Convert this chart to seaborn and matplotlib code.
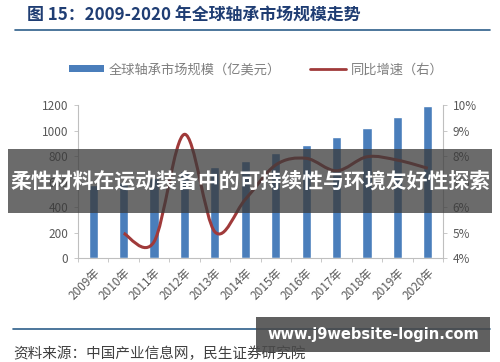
import matplotlib
matplotlib.use('Agg')
import matplotlib.pyplot as plt
import seaborn as sns
import pandas as pd
import numpy as np
from matplotlib.path import Path
from matplotlib.patches import PathPatch, Patch, Rectangle
from matplotlib.lines import Line2D

# data
years = ['2009年', '2010年', '2011年', '2012年', '2013年', '2014年',
         '2015年', '2016年', '2017年', '2018年', '2019年', '2020年']
market = [570, 598, 626, 682, 716, 760, 821, 883, 946, 1022, 1108, 1192]
growth_years = years[1:]
growth = [4.97, 4.64, 8.85, 5.03, 6.3, 7.65, 7.91, 7.42, 7.97, 7.84, 7.52]

sns.set_theme(style='white')
plt.rcParams['font.family'] = ['Noto Sans CJK SC', 'DejaVu Sans']

bar_color = '#4a7ebb'
line_color = '#a03a3a'
tick_color = '#595959'
axis_color = '#bfbfbf'

fig = plt.figure(figsize=(5.0, 3.62), dpi=100)
fig.patch.set_facecolor('white')
ax = fig.add_axes([0.156, 0.287, 0.73, 0.423])

df = pd.DataFrame({'year': years, 'market': market})
sns.barplot(data=df, x='year', y='market', order=years, color=bar_color,
            width=0.3, saturation=1, ax=ax)
ax.set_xlim(-0.5, len(years) - 0.5)
ax.set_ylim(0, 1200)
ax.set_yticks(range(0, 1201, 200))
ax.set_xlabel('')
ax.set_ylabel('')
ax.tick_params(axis='y', colors=tick_color, labelsize=8.5, length=3,
               width=0.6, direction='out', left=True, pad=4)
ax.tick_params(axis='y', color=axis_color)
ax.set_xticks(range(len(years)))
ax.set_xticklabels(years, rotation=45, ha='right', rotation_mode='anchor',
                   fontsize=8.5, color=tick_color)
ax.tick_params(axis='x', which='major', length=0, pad=6)
ax.set_xticks(np.arange(-0.5, len(years), 1), minor=True)
ax.tick_params(axis='x', which='minor', length=3, width=0.6, color=axis_color,
               bottom=True)
for s in ['top', 'right']:
    ax.spines[s].set_visible(False)
for s in ['left', 'bottom']:
    ax.spines[s].set_color(axis_color)
    ax.spines[s].set_linewidth(0.8)

# growth rate on the right axis, smoothed like the Excel line
ax2 = ax.twinx()
ax2.set_ylim(4, 10)
ax2.set_yticks(range(4, 11))
ax2.set_yticklabels([f'{v}%' for v in range(4, 11)])
ax2.tick_params(axis='y', colors=tick_color, labelsize=8.5, length=3,
                width=0.6, right=True, pad=4)
ax2.tick_params(axis='y', color=axis_color)
for s in ['top', 'left', 'bottom']:
    ax2.spines[s].set_visible(False)
ax2.spines['right'].set_color(axis_color)
ax2.spines['right'].set_linewidth(0.8)

gx = [years.index(y) for y in growth_years]
pts = np.column_stack([gx, growth])
verts = [tuple(pts[0])]
codes = [Path.MOVETO]
for i in range(len(pts) - 1):
    p0 = pts[i - 1] if i > 0 else pts[i]
    p1 = pts[i]
    p2 = pts[i + 1]
    p3 = pts[i + 2] if i + 2 < len(pts) else pts[i + 1]
    c1 = p1 + (p2 - p0) / 6
    c2 = p2 - (p3 - p1) / 6
    verts += [tuple(c1), tuple(c2), tuple(p2)]
    codes += [Path.CURVE4] * 3
ax2.add_patch(PathPatch(Path(verts, codes), fill=False, edgecolor=line_color,
                        lw=2.2, transform=ax2.transData))

# legend
handles = [Patch(facecolor=bar_color, edgecolor='none'),
           Line2D([0], [0], color=line_color, lw=2)]
labels = ['全球轴承市场规模（亿美元）', '同比增速（右）']
leg = fig.legend(handles, labels, loc='center', bbox_to_anchor=(0.512, 0.807),
                 ncol=2, frameon=False, fontsize=9.5, handlelength=2.7,
                 handleheight=0.45, columnspacing=2.2, handletextpad=0.35)
for t in leg.get_texts():
    t.set_color('#7f7f7f')

# title and footer
fig.text(0.054, 0.958, '图 15：2009-2020 年全球轴承市场规模走势', fontsize=12.2,
         fontweight='bold', color='#1f3d73', va='center', ha='left')
fig.add_artist(Line2D([0.03, 0.98], [0.917, 0.917], color='#2e5f8a', lw=1.2))
fig.add_artist(Line2D([0.026, 0.98], [0.091, 0.091], color='#2e5f8a', lw=1.2))
fig.text(0.026, 0.024, '资料来源：中国产业信息网，民生证券研究院', fontsize=10.5,
         color='#404040', va='center', ha='left')

# overlay banners
fig.add_artist(Rectangle((0.016, 0.412), 0.968, 0.177, transform=fig.transFigure,
                         facecolor='#3a3a3a', alpha=0.75, edgecolor='none', zorder=10))
fig.text(0.5, 0.5, '柔性材料在运动装备中的可持续性与环境友好性探索', fontsize=15,
         fontweight='bold', color='white', ha='center', va='center', zorder=11)
fig.add_artist(Rectangle((0.512, 0.028), 0.468, 0.097, transform=fig.transFigure,
                         facecolor='#4a4a4a', alpha=0.88, edgecolor='none', zorder=10))
fig.text(0.746, 0.077, 'www.j9website-login.com', fontsize=10.5, fontweight='bold',
         color='white', ha='center', va='center', zorder=11,
         family=['DejaVu Sans'])

fig.savefig('out.png', dpi=100)
